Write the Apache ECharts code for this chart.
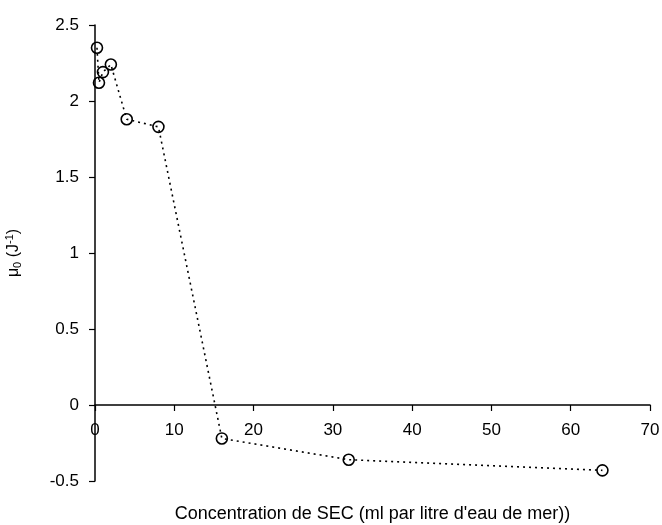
<!DOCTYPE html>
<html>
<head>
<meta charset="utf-8">
<script src="https://cdn.jsdelivr.net/npm/echarts@6/dist/echarts.min.js"></script>
<style>html,body{margin:0;padding:0;background:#fff}#c{width:662px;height:525px}</style>
</head>
<body>
<div id="c"></div>
<script>
const concentrations = [0.25, 0.5, 1, 2, 4, 8, 16, 32, 64];
const mu0 = [2.35, 2.12, 2.19, 2.24, 1.88, 1.83, -0.22, -0.36, -0.43];
const xTicks = [0, 10, 20, 30, 40, 50, 60, 70];
const yTicks = [-0.5, 0, 0.5, 1, 1.5, 2, 2.5];
const xTitle = "Concentration de SEC (ml par litre d'eau de mer))";

const chart = echarts.init(document.getElementById('c'));
const font = 'Liberation Sans, Arial, sans-serif';
const gridTop = 25, gridBottom = 44, H = 525;
const plotH = H - gridTop - gridBottom;
const zeroOffset = -plotH * (0 - yTicks[0]) / (yTicks[yTicks.length - 1] - yTicks[0]);
chart.setOption({
  animation: false,
  backgroundColor: '#fff',
  grid: { left: 95, right: 12, top: gridTop, bottom: gridBottom, containLabel: false, outerBoundsMode: 'none' },
  xAxis: {
    type: 'value', min: xTicks[0], max: xTicks[xTicks.length - 1], interval: 10,
    offset: zeroOffset,
    axisLine: { onZero: false, lineStyle: { color: '#000', width: 1.5 } },
    axisTick: { show: true, length: 6, lineStyle: { color: '#000', width: 1.2 } },
    axisLabel: { color: '#000', fontSize: 17, fontFamily: font, margin: 17 },
    splitLine: { show: false },
    name: xTitle, nameLocation: 'middle', nameGap: 100,
    nameTextStyle: { color: '#000', fontSize: 18, fontFamily: font }
  },
  yAxis: {
    type: 'value', min: yTicks[0], max: yTicks[yTicks.length - 1], interval: 0.5,
    axisLine: { show: true, onZero: false, lineStyle: { color: '#000', width: 1.5 } },
    axisTick: { show: true, length: 6, lineStyle: { color: '#000', width: 1.2 } },
    axisLabel: { color: '#000', fontSize: 17, fontFamily: font, margin: 16 },
    splitLine: { show: false },
    name: '{a|μ}{s|0}{a| (J}{p|-1}{a|)}', nameLocation: 'middle', nameGap: 72,
    nameTextStyle: {
      color: '#000', fontFamily: font,
      rich: {
        a: { fontSize: 16, fontFamily: font, color: '#000' },
        s: { fontSize: 11, fontFamily: font, color: '#000', padding: [8, 0, 0, 0] },
        p: { fontSize: 11, fontFamily: font, color: '#000', padding: [0, 0, 8, 0] }
      }
    }
  },
  series: [{
    type: 'line',
    data: concentrations.map((x, i) => [x, mu0[i]]),
    lineStyle: { color: '#000', width: 1.6, type: [2, 4] },
    symbol: 'circle', symbolSize: 11,
    itemStyle: { color: 'rgba(255,255,255,0)', borderColor: '#000', borderWidth: 1.6 },
    z: 3
  }]
});
</script>
</body>
</html>
